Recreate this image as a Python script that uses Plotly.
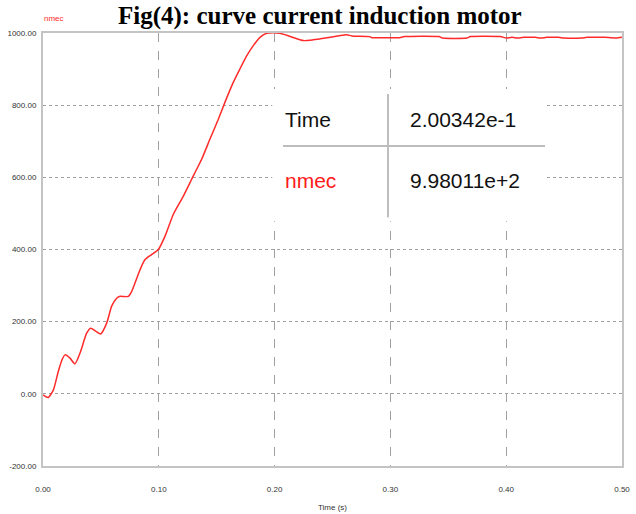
import plotly.graph_objects as go

# ---- data ----
time_s = [0.000, 0.0025, 0.0046, 0.0090, 0.0132, 0.0165, 0.0190, 0.0233, 0.0276, 0.0320,
          0.0377, 0.0412, 0.0458, 0.0498, 0.0550, 0.0593, 0.0636, 0.0660, 0.0737, 0.0766,
          0.0838, 0.0881, 0.0938, 0.0996, 0.1054, 0.1125, 0.1212, 0.1298, 0.1370, 0.1442,
          0.1514, 0.1570, 0.1643, 0.1700, 0.1760, 0.1816, 0.1874, 0.1930, 0.1990, 0.2047,
          0.2130, 0.2248, 0.2334, 0.2480, 0.2620, 0.2666, 0.2820, 0.2840, 0.3000, 0.3080,
          0.3120, 0.3420, 0.3450, 0.3660, 0.3690, 0.3950, 0.4000, 0.4050, 0.4100, 0.4150,
          0.4250, 0.4300, 0.4350, 0.4450, 0.4500, 0.4650, 0.4700, 0.4850, 0.4900, 0.4950,
          0.5000]
nmec = [-3, -8, -10, 11, 62, 95, 108, 99, 83, 113,
        168, 182, 173, 166, 196, 243, 265, 270, 270, 284,
        344, 372, 386, 400, 437, 497, 548, 604, 650, 706,
        761, 807, 863, 900, 937, 965, 988, 999, 1001, 999,
        991, 979, 981, 988, 995, 992, 990, 987, 987, 987,
        990, 990, 986, 986, 990, 990, 986, 988, 986, 988,
        988, 986, 988, 988, 986, 986, 988, 988, 987, 986,
        988]

y_ticks = [-200, 0, 200, 400, 600, 800, 1000]
x_ticks = [0.0, 0.1, 0.2, 0.3, 0.4, 0.5]
y_tick_text = ["%.2f" % v for v in y_ticks]
x_tick_text = ["%.2f" % v for v in x_ticks]

cursor_time = "2.00342e-1"
cursor_value = "9.98011e+2"

RED = "#ff2a2a"
GRID = "#a0a0a0"
BOX = "#c4c4c4"
TICKFONT = dict(family="Liberation Sans, Arial, sans-serif", size=8, color="#333333")

fig = go.Figure()
fig.add_trace(go.Scatter(x=time_s, y=nmec, mode="lines",
                         line=dict(color=RED, width=1.5, shape="spline", smoothing=0.6),
                         showlegend=False, hoverinfo="skip"))

fig.update_layout(
    width=636, height=514,
    margin=dict(l=43, r=14, t=33, b=48),
    paper_bgcolor="white", plot_bgcolor="white",
    showlegend=False,
)
fig.update_xaxes(range=[0, 0.5], tickvals=x_ticks, ticktext=x_tick_text,
                 showgrid=True, gridcolor=GRID, griddash="dash", gridwidth=1,
                 showline=True, linecolor=BOX, linewidth=2, mirror=True,
                 ticks="outside", ticklen=14, tickcolor="rgba(0,0,0,0)",
                 tickfont=TICKFONT, zeroline=False, automargin=False,
                 title=dict(text="Time (s)", font=TICKFONT, standoff=12))
fig.update_yaxes(range=[-200, 1000], tickvals=y_ticks, ticktext=y_tick_text,
                 showgrid=True, gridcolor=GRID, griddash="dot", gridwidth=1,
                 showline=True, linecolor=BOX, linewidth=2, mirror=True,
                 ticks="outside", ticklen=3, tickcolor="rgba(0,0,0,0)",
                 tickfont=TICKFONT, zeroline=False, automargin=False)

# cursor read-out table
fig.add_shape(type="rect", xref="x", yref="y", x0=0.198, x1=0.4335, y0=478, y1=845,
              fillcolor="white", line=dict(width=0), layer="above")
fig.add_shape(type="line", xref="x", yref="y", x0=0.2073, x1=0.4335, y0=687, y1=687,
              line=dict(color="#bdbdbd", width=2), layer="above")
fig.add_shape(type="line", xref="x", yref="y", x0=0.2979, x1=0.2979, y0=489, y1=831,
              line=dict(color="#bdbdbd", width=2), layer="above")
TF = "Liberation Sans, Arial, sans-serif"
fig.add_annotation(x=0.2073, y=761, xref="x", yref="y", xanchor="left", yanchor="middle",
                   text="Time", showarrow=False, font=dict(family=TF, size=21, color="#111111"))
fig.add_annotation(x=0.3152, y=761, xref="x", yref="y", xanchor="left", yanchor="middle",
                   text=cursor_time, showarrow=False, font=dict(family=TF, size=21, color="#111111"))
fig.add_annotation(x=0.2073, y=592, xref="x", yref="y", xanchor="left", yanchor="middle",
                   text="nmec", showarrow=False, font=dict(family=TF, size=21, color="#ff1a1a"))
fig.add_annotation(x=0.3152, y=592, xref="x", yref="y", xanchor="left", yanchor="middle",
                   text=cursor_value, showarrow=False, font=dict(family=TF, size=21, color="#111111"))

# trace name label at top-left
fig.add_annotation(x=0.0, y=1.0, xref="paper", yref="paper", xanchor="left", yanchor="bottom",
                   xshift=-1, yshift=8, text="nmec", showarrow=False,
                   font=dict(family=TF, size=8, color=RED))

# figure caption
fig.add_annotation(x=0.478, y=1.0, xref="paper", yref="paper", xanchor="center", yanchor="top",
                   yshift=33, text="<b>Fig(4): curve current induction motor</b>", showarrow=False,
                   font=dict(family="Liberation Serif, Times New Roman, serif", size=25, color="black"))

fig.write_html("out.html")
